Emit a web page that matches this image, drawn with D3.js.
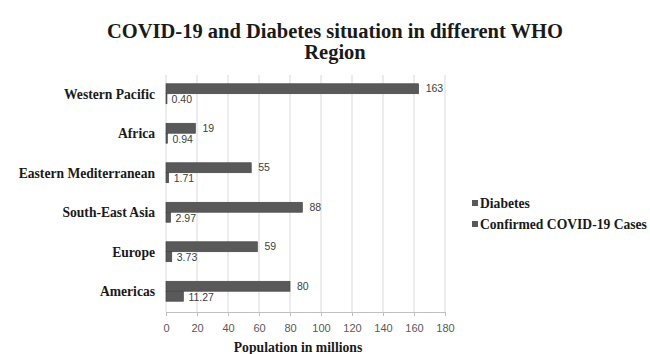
<!DOCTYPE html>
<html>
<head>
<meta charset="utf-8">
<script src="https://cdn.jsdelivr.net/npm/d3@7"></script>
<style>
  body { margin: 0; background: #fff; }
</style>
</head>
<body>
<div id="chart"></div>
<script>
// data, top to bottom as in the picture
var regions = ["Western Pacific", "Africa", "Eastern Mediterranean", "South-East Asia", "Europe", "Americas"];
var diabetes = [163, 19, 55, 88, 59, 80];
var covidCases = [0.40, 0.94, 1.71, 2.97, 3.73, 11.27];
var covidLabels = ["0.40", "0.94", "1.71", "2.97", "3.73", "11.27"];
var xTicks = [0, 20, 40, 60, 80, 100, 120, 140, 160, 180];
var seriesNames = ["Diabetes", "Confirmed COVID-19 Cases"];

var W = 650, H = 354;
var margin = {top: 75, right: 205, bottom: 42, left: 166},
    width = W - margin.left - margin.right,
    height = H - margin.top - margin.bottom;

var barColor = "#595959";
var serif = "'Liberation Serif', 'Times New Roman', serif";
var sans = "'Liberation Sans', Arial, sans-serif";

var svg = d3.select("#chart")
  .append("svg")
    .attr("width", W)
    .attr("height", H);

// title
svg.append("text")
  .attr("x", 335).attr("y", 38)
  .attr("text-anchor", "middle")
  .style("font-family", serif).style("font-weight", "bold").style("font-size", "20.5px")
  .attr("fill", "#1a1a1a")
  .text("COVID-19 and Diabetes situation in different WHO");
svg.append("text")
  .attr("x", 335).attr("y", 59)
  .attr("text-anchor", "middle")
  .style("font-family", serif).style("font-weight", "bold").style("font-size", "20.5px")
  .attr("fill", "#1a1a1a")
  .text("Region");

var g = svg.append("g")
  .attr("transform", "translate(" + margin.left + "," + margin.top + ")");

var x = d3.scaleLinear()
  .domain([0, 180])
  .range([0, width]);

var y = d3.scaleBand()
  .domain(regions)
  .range([0, height]);

var sub = d3.scaleBand()
  .domain(seriesNames)
  .range([0, 20]);

// gridlines
g.append("g")
  .selectAll("line")
  .data(xTicks)
  .enter()
  .append("line")
    .attr("x1", function(d) { return x(d); })
    .attr("x2", function(d) { return x(d); })
    .attr("y1", 0)
    .attr("y2", height)
    .attr("stroke", "#d9d9d9")
    .attr("stroke-width", 1);

// x axis
var xAxis = g.append("g")
  .attr("transform", "translate(0," + height + ")")
  .call(d3.axisBottom(x).tickValues(xTicks).tickSize(4).tickPadding(8));
xAxis.select(".domain").attr("stroke", "#bfbfbf");
xAxis.selectAll(".tick line").attr("stroke", "#bfbfbf");
xAxis.selectAll("text")
  .style("font-family", sans).style("font-size", "11px").attr("fill", "#595959");

// x axis title
svg.append("text")
  .attr("x", 298).attr("y", 352)
  .attr("text-anchor", "middle")
  .style("font-family", serif).style("font-weight", "bold").style("font-size", "13.7px")
  .attr("fill", "#1a1a1a")
  .text("Population in millions");

// category labels
g.append("g")
  .selectAll("text")
  .data(regions)
  .enter()
  .append("text")
    .attr("x", -11)
    .attr("y", function(d) { return y(d) + y.bandwidth() / 2 - 1; })
    .attr("dy", "0.35em")
    .attr("text-anchor", "end")
    .style("font-family", serif).style("font-weight", "bold").style("font-size", "13.6px")
    .attr("fill", "#1a1a1a")
    .text(function(d) { return d; });

var offset = function(d) { return y(d) + y.bandwidth() / 2 - 11; };

// diabetes bars
g.append("g")
  .selectAll("rect")
  .data(regions)
  .enter()
  .append("rect")
    .attr("x", x(0))
    .attr("y", function(d) { return offset(d) + sub("Diabetes"); })
    .attr("width", function(d, i) { return x(diabetes[i]) - x(0); })
    .attr("height", sub.bandwidth())
    .attr("fill", barColor)
    .attr("stroke", "#404040")
    .attr("stroke-width", 0.6);

// covid bars
g.append("g")
  .selectAll("rect")
  .data(regions)
  .enter()
  .append("rect")
    .attr("x", x(0))
    .attr("y", function(d) { return offset(d) + sub("Confirmed COVID-19 Cases"); })
    .attr("width", function(d, i) { return Math.max(x(covidCases[i]) - x(0), 1); })
    .attr("height", sub.bandwidth())
    .attr("fill", barColor)
    .attr("stroke", "#404040")
    .attr("stroke-width", 0.6);

// value labels
g.append("g")
  .selectAll("text")
  .data(regions)
  .enter()
  .append("text")
    .attr("x", function(d, i) { return x(diabetes[i]) + 7; })
    .attr("y", function(d) { return offset(d) + sub("Diabetes") + sub.bandwidth() / 2; })
    .attr("dy", "0.35em")
    .style("font-family", sans).style("font-size", "10.5px")
    .attr("fill", "#404040")
    .text(function(d, i) { return diabetes[i]; });

g.append("g")
  .selectAll("text")
  .data(regions)
  .enter()
  .append("text")
    .attr("x", function(d, i) { return x(covidCases[i]) + 5; })
    .attr("y", function(d) { return offset(d) + sub("Confirmed COVID-19 Cases") + sub.bandwidth() / 2 + 1; })
    .attr("dy", "0.35em")
    .style("font-family", sans).style("font-size", "10.5px")
    .attr("fill", "#404040")
    .text(function(d, i) { return covidLabels[i]; });

// legend
var legend = svg.append("g")
  .attr("transform", "translate(472,203)");
legend.selectAll("rect")
  .data(seriesNames)
  .enter()
  .append("rect")
    .attr("x", 0)
    .attr("y", function(d, i) { return i * 21 - 3; })
    .attr("width", 6).attr("height", 6)
    .attr("fill", barColor);
legend.selectAll("text")
  .data(seriesNames)
  .enter()
  .append("text")
    .attr("x", 8)
    .attr("y", function(d, i) { return i * 21; })
    .attr("dy", "0.35em")
    .style("font-family", serif).style("font-weight", "bold").style("font-size", "13.6px")
    .attr("fill", "#1a1a1a")
    .text(function(d) { return d; });
</script>
</body>
</html>
